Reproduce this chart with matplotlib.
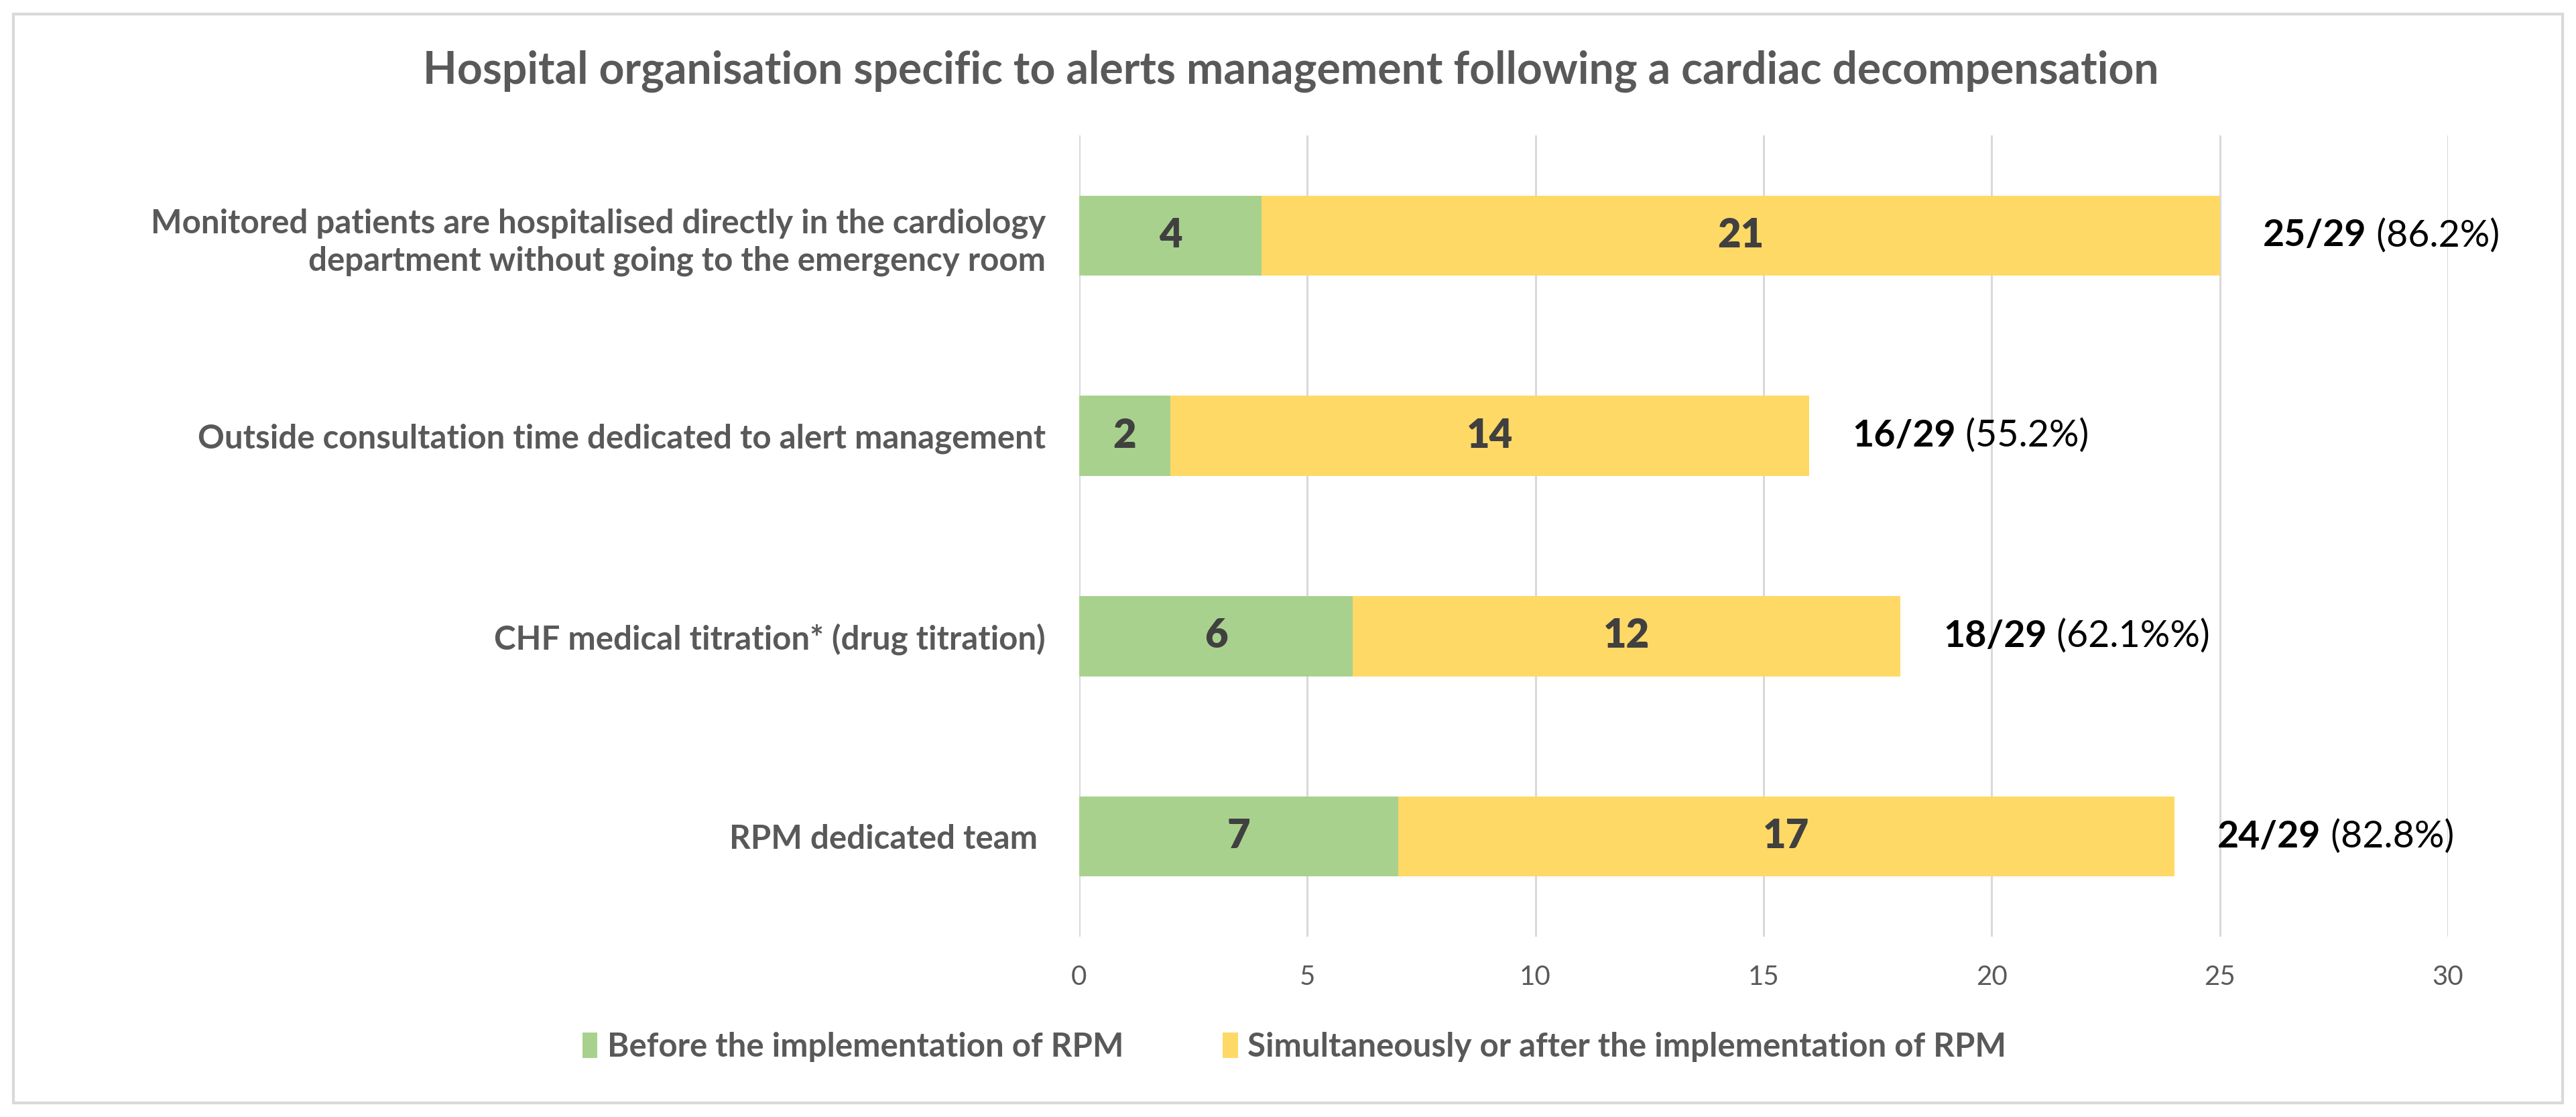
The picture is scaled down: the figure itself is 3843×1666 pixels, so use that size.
import numpy as np
import matplotlib.pyplot as plt
from matplotlib.patches import Rectangle

plt.rcParams['font.family'] = ['Lato', 'DejaVu Sans']

categories = ["Monitored patients are hospitalised directly in the cardiology\ndepartment without going to the emergency room",
              "Outside consultation time dedicated to alert management",
              "CHF medical titration* (drug titration)",
              "RPM dedicated team "]
before = [4, 2, 6, 7]
after = [21, 14, 12, 17]
n_total = 29
pct_labels = ["(86.2%)", "(55.2%)", "(62.1%%)", "(82.8%)"]
series_names = ["Before the implementation of RPM",
                "Simultaneously or after the implementation of RPM"]
xticks = [0, 5, 10, 15, 20, 25, 30]

GREEN = '#A9D18E'
YELLOW = '#FFD966'
GREY = '#595959'

fig = plt.figure(figsize=(38.43, 16.66), dpi=100)
# light frame around the whole chart
fig.patches.append(Rectangle((0.0052, 0.0126), 0.9896, 0.9748, transform=fig.transFigure,
                             fill=False, edgecolor='#D9D9D9', linewidth=3))

ax = fig.add_axes([0.4189, 0.1615, 0.5314, 0.7173])
y = np.arange(len(categories))
b1 = ax.barh(y, before, height=0.4, color=GREEN, label=series_names[0], zorder=3)
b2 = ax.barh(y, after, left=before, height=0.4, color=YELLOW, label=series_names[1], zorder=3)

for bars in (b1, b2):
    ax.bar_label(bars, label_type='center', fontsize=43, fontweight='heavy', color='#404040')

totals = np.array(before) + np.array(after)
for i, t in enumerate(totals):
    txt = ax.annotate(f"{t}/{n_total}", xy=(t + 0.95, i), va='center', ha='left',
                      fontsize=40, fontweight='bold', color='black')
    ax.annotate(" " + pct_labels[i], xy=(1, 0.5), xycoords=txt, va='center', ha='left',
                fontsize=40, color='black')

ax.set_xlim(0, 30)
ax.set_ylim(3.5, -0.5)
ax.set_xticks(xticks)
ax.set_yticks(y)
ax.set_yticklabels(categories, fontsize=35.5, fontweight='bold', color=GREY, linespacing=1.3)
ax.tick_params(axis='y', length=0, pad=36)
ax.tick_params(axis='x', length=0, pad=30, labelsize=29, labelcolor=GREY)
ax.grid(axis='x', color='#D9D9D9', linewidth=2.2, zorder=0)
for s in ax.spines.values():
    s.set_visible(False)

fig.text(0.501, 0.9364, "Hospital organisation specific to alerts management following a cardiac decompensation",
         ha='center', va='center', fontsize=47.5, fontweight='bold', color=GREY)

fig.legend(handles=[b1, b2], loc='center', bbox_to_anchor=(0.5025, 0.0625), ncol=2, frameon=False,
           prop={'size': 35.5, 'weight': 'bold'}, labelcolor=GREY,
           handlelength=0.45, handleheight=0.8, handletextpad=0.3, columnspacing=3.0)

fig.savefig("out.png", dpi=100)
